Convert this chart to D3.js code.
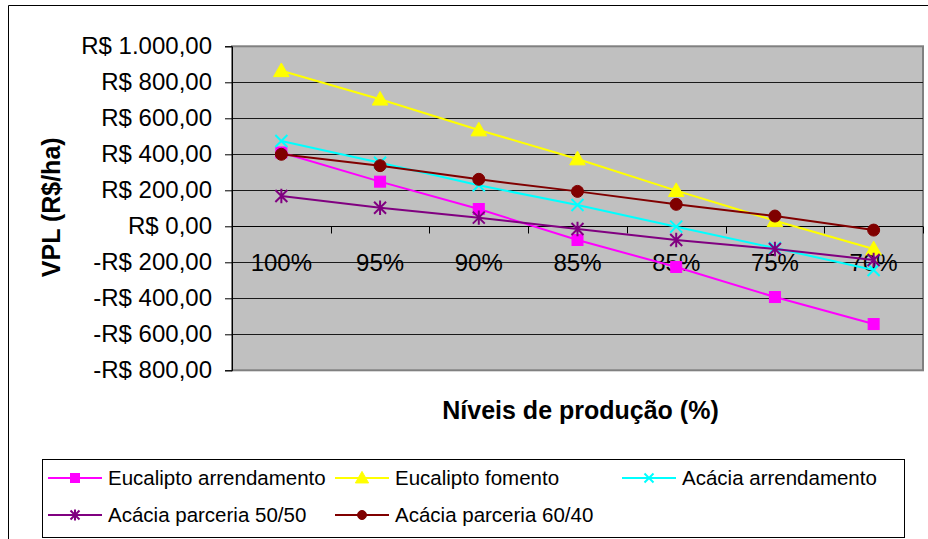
<!DOCTYPE html>
<html>
<head>
<meta charset="utf-8">
<script src="https://cdn.jsdelivr.net/npm/d3@7"></script>
<style>
  html, body { margin: 0; padding: 0; background: #fff; }
  svg { display: block; font-family: Arial, "Liberation Sans", sans-serif; }
</style>
</head>
<body>
<svg id="chart" width="928" height="539"></svg>
<script>
// Production levels (category axis)
const categories = ["100%", "95%", "90%", "85%", "85%", "75%", "70%"];

// NPV (R$/ha) for each scenario
const eucaliptoArrendamento = [410, 248, 96, -76, -226, -393, -543];
const eucaliptoFomento      = [864, 706, 535, 374, 198, 31, -126];
const acaciaArrendamento    = [474, 353, 228, 118, -2, -121, -243];
const acaciaParceria5050    = [168, 103, 48, -15, -76, -126, -187];
const acaciaParceria6040    = [400, 337, 261, 194, 122, 57, -21];

const yTicks = [-800, -600, -400, -200, 0, 200, 400, 600, 800, 1000];

const series = [
  { name: "Eucalipto arrendamento", values: eucaliptoArrendamento, color: "#FF00FF", marker: "square" },
  { name: "Eucalipto fomento",      values: eucaliptoFomento,      color: "#FFFF00", marker: "triangle" },
  { name: "Acácia arrendamento",    values: acaciaArrendamento,    color: "#00FFFF", marker: "x" },
  { name: "Acácia parceria 50/50",  values: acaciaParceria5050,    color: "#800080", marker: "star" },
  { name: "Acácia parceria 60/40",  values: acaciaParceria6040,    color: "#800000", marker: "circle" }
];

const svg = d3.select("#chart");
const plot = { left: 232, right: 923, top: 46.3, bottom: 370.3 };

const x = d3.scaleBand().domain(d3.range(categories.length)).range([plot.left, plot.right]);
const y = d3.scaleLinear().domain([-800, 1000]).range([plot.bottom, plot.top]);
const cx = i => x(i) + x.bandwidth() / 2;

const ptBR = d3.formatLocale({ decimal: ",", thousands: ".", grouping: [3], currency: ["R$ ", ""], minus: "-" });
const fmt = ptBR.format("$,.2f");

// Outer chart frame
svg.append("path")
  .attr("d", "M8.5,539 V5.5 H928")
  .attr("fill", "none").attr("stroke", "#000").attr("stroke-width", 1);

// Plot area
svg.append("rect")
  .attr("x", plot.left).attr("y", plot.top)
  .attr("width", plot.right - plot.left).attr("height", plot.bottom - plot.top)
  .attr("fill", "#C0C0C0").attr("stroke", "#808080").attr("stroke-width", 2);

// Horizontal gridlines
svg.append("g").selectAll("line")
  .data(yTicks.filter(t => t !== 1000 && t !== -800))
  .join("line")
  .attr("x1", plot.left).attr("x2", plot.right)
  .attr("y1", d => Math.round(y(d)) + 0.5).attr("y2", d => Math.round(y(d)) + 0.5)
  .attr("stroke", "#1a1a1a").attr("stroke-width", 1);

// Value axis
const yAxis = d3.axisLeft(y).tickValues(yTicks).tickSize(7).tickPadding(13).tickFormat(fmt);
const gy = svg.append("g").attr("transform", `translate(${plot.left},0)`).call(yAxis);
gy.select(".domain").attr("stroke", "#000");
gy.selectAll(".tick line").attr("stroke", "#000");
gy.selectAll(".tick text").attr("font-size", 24).attr("fill", "#000")
  .attr("font-family", "Arial, 'Liberation Sans', sans-serif");

// Category axis at zero
const y0 = Math.round(y(0)) + 0.5;
svg.append("line")
  .attr("x1", plot.left).attr("x2", plot.right).attr("y1", y0).attr("y2", y0)
  .attr("stroke", "#000").attr("stroke-width", 1);
svg.append("g").selectAll("line")
  .data(d3.range(1, categories.length + 1))
  .join("line")
  .attr("x1", i => Math.round(plot.left + i * x.step()) + 0.5)
  .attr("x2", i => Math.round(plot.left + i * x.step()) + 0.5)
  .attr("y1", y0).attr("y2", y0 + 7)
  .attr("stroke", "#000");

svg.append("g").selectAll("text")
  .data(categories)
  .join("text")
  .attr("x", (d, i) => cx(i))
  .attr("y", y0 + 44)
  .attr("text-anchor", "middle")
  .attr("font-size", 24)
  .attr("fill", "#000")
  .text(d => d);

// Marker shapes
function drawMarker(g, type, color, size) {
  const s = size;
  if (type === "square") {
    g.append("rect").attr("x", -s / 2).attr("y", -s / 2).attr("width", s).attr("height", s)
      .attr("fill", color).attr("stroke", color);
  } else if (type === "triangle") {
    g.append("path").attr("d", `M0,${-s * 0.6} L${s * 0.6},${s * 0.45} L${-s * 0.6},${s * 0.45} Z`)
      .attr("fill", color).attr("stroke", color);
  } else if (type === "circle") {
    g.append("circle").attr("r", s / 2).attr("fill", color).attr("stroke", color);
  } else if (type === "x") {
    const r = s / 2;
    g.append("path").attr("d", `M${-r},${-r} L${r},${r} M${-r},${r} L${r},${-r}`)
      .attr("stroke", color).attr("stroke-width", 2).attr("fill", "none");
  } else if (type === "star") {
    const r = s / 2;
    g.append("path").attr("d", `M${-r},${-r} L${r},${r} M${-r},${r} L${r},${-r} M0,${-r * 1.2} L0,${r * 1.2}`)
      .attr("stroke", color).attr("stroke-width", 2).attr("fill", "none");
  }
}

const markerSize = { square: 11, triangle: 13, circle: 12, x: 12, star: 12 };

// Series lines and markers
const line = d3.line().x((d, i) => cx(i)).y(d => y(d));
series.forEach(s => {
  const g = svg.append("g");
  g.append("path").datum(s.values).attr("d", line)
    .attr("fill", "none").attr("stroke", s.color).attr("stroke-width", 2);
  s.values.forEach((v, i) => {
    const m = g.append("g").attr("transform", `translate(${cx(i)},${y(v)})`);
    drawMarker(m, s.marker, s.color, markerSize[s.marker]);
  });
});

// Axis titles
svg.append("text")
  .attr("transform", `translate(60,${(plot.top + plot.bottom) / 2 - 1}) rotate(-90)`)
  .attr("text-anchor", "middle")
  .attr("font-size", 25).attr("font-weight", "bold").attr("fill", "#000")
  .text("VPL (R$/ha)");

svg.append("text")
  .attr("x", (plot.left + plot.right) / 2 + 3)
  .attr("y", 419)
  .attr("text-anchor", "middle")
  .attr("font-size", 25).attr("font-weight", "bold").attr("fill", "#000")
  .text("Níveis de produção (%)");

// Legend
const legend = svg.append("g");
legend.append("rect")
  .attr("x", 42.5).attr("y", 459.5).attr("width", 862).attr("height", 78)
  .attr("fill", "#fff").attr("stroke", "#000").attr("stroke-width", 1);

const legendPos = [
  { x: 48, y: 478 }, { x: 335, y: 478 }, { x: 622, y: 478 },
  { x: 48, y: 515 }, { x: 335, y: 515 }
];
series.forEach((s, k) => {
  const p = legendPos[k];
  const g = legend.append("g").attr("transform", `translate(${p.x},${p.y})`);
  g.append("line").attr("x1", 0).attr("x2", 54).attr("y1", 0).attr("y2", 0)
    .attr("stroke", s.color).attr("stroke-width", 2);
  const m = g.append("g").attr("transform", "translate(27,0)");
  drawMarker(m, s.marker, s.color, s.marker === "triangle" ? 11 : 9);
  g.append("text").attr("x", 60).attr("y", 7)
    .attr("font-size", 20.5).attr("fill", "#000").text(s.name);
});
</script>
</body>
</html>
